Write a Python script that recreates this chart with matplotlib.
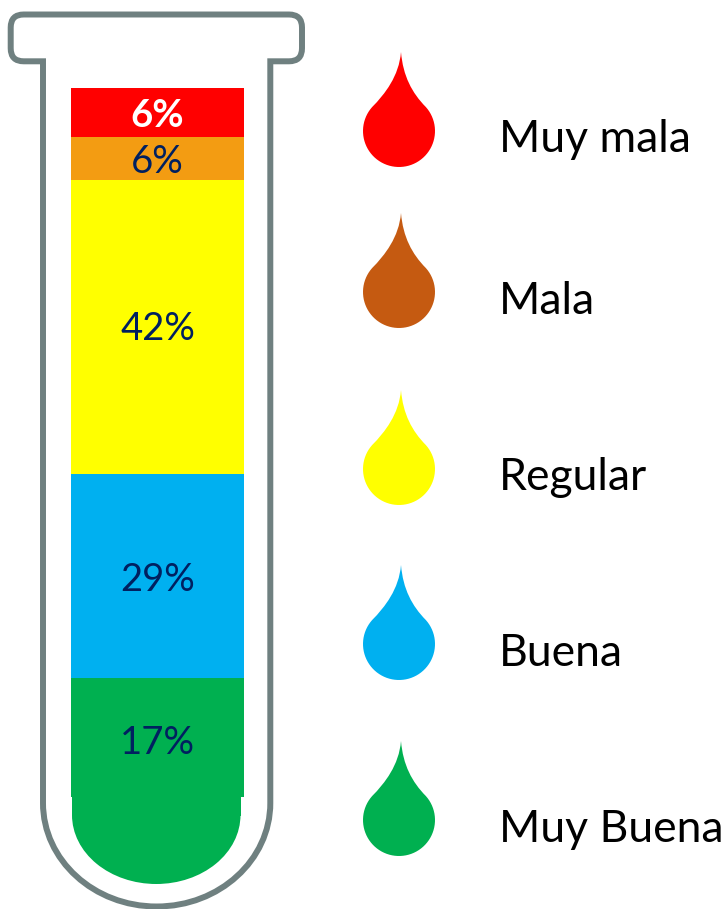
import matplotlib
matplotlib.use("Agg")
import matplotlib.pyplot as plt
from matplotlib.path import Path
from matplotlib.patches import PathPatch, Ellipse, Rectangle
import numpy as np

plt.rcParams['font.family'] = ['Lato', 'DejaVu Sans']

# Data, bottom to top
categories = ["Muy Buena", "Buena", "Regular", "Mala", "Muy mala"]
segment_heights = [17, 29, 42, 6.1, 7]
value_labels = ["17%", "29%", "42%", "6%", "6%"]
bar_colors = ["#00B050", "#00B0F0", "#FFFF00", "#F39C12", "#FF0000"]
label_colors = ["#002060", "#002060", "#002060", "#002060", "#FFFFFF"]
label_weights = ["normal", "normal", "normal", "normal", "bold"]
label_nudges = [-0.3, 0, 0.3, 0, 0]
drop_colors = ["#00B050", "#00B0F0", "#FFFF00", "#C55A11", "#FF0000"]
drop_tops = [741, 565, 390, 213, 52]
W, H = 728, 909
GREY = "#6F8080"

fig = plt.figure(figsize=(W / 100, H / 100), dpi=100, facecolor="white")

# Pixel-space canvas for the tube and the legend
canvas = fig.add_axes([0, 0, 1, 1])
canvas.set_xlim(0, W)
canvas.set_ylim(H, 0)
canvas.axis("off")

# Tube outline
L, R, T, B = 10.7, 302, 14.5, 61.3
NL, NR = 43, 270.3
r = 13
sy = 803
by = 906.5
k = 0.5523
rx = (NR - NL) / 2
ry = by - sy
cx = (NL + NR) / 2
verts = [(NL, B), (L + r, B), (L, B), (L, B - r), (L, T + r), (L, T), (L + r, T),
         (R - r, T), (R, T), (R, T + r), (R, B - r), (R, B), (R - r, B), (NR, B),
         (NR, sy),
         (NR, sy + k * ry), (cx + k * rx, by), (cx, by),
         (cx - k * rx, by), (NL, sy + k * ry), (NL, sy),
         (NL, B)]
codes = [Path.MOVETO, Path.LINETO, Path.CURVE3, Path.CURVE3, Path.LINETO, Path.CURVE3, Path.CURVE3,
         Path.LINETO, Path.CURVE3, Path.CURVE3, Path.LINETO, Path.CURVE3, Path.CURVE3, Path.LINETO,
         Path.LINETO,
         Path.CURVE4, Path.CURVE4, Path.CURVE4,
         Path.CURVE4, Path.CURVE4, Path.CURVE4,
         Path.CLOSEPOLY]
canvas.add_patch(PathPatch(Path(verts, codes), fc="white", ec=GREY, lw=4.3, joinstyle="miter"))

# Rounded green tube bottom
canvas.add_patch(Rectangle((72, 790), 168.5, 26, fc=bar_colors[0], ec="none"))
canvas.add_patch(Ellipse((156.25, 815), 168.5, 138, fc=bar_colors[0], ec="none"))

# Stacked column
bar_ax = fig.add_axes([71 / W, 1 - 797 / H, 173 / W, (797 - 88) / H])
bar_ax.set_xlim(0, 1)
bar_ax.set_ylim(0, sum(segment_heights))
bar_ax.axis("off")
bottom = 0
for h, c, t, tc, w, n in zip(segment_heights, bar_colors, value_labels,
                             label_colors, label_weights, label_nudges):
    bar_ax.bar(0.5, h, width=1, bottom=bottom, color=c, linewidth=0)
    bar_ax.text(0.5, bottom + h / 2 + n, t, color=tc, fontsize=27.5, fontweight=w,
                ha="center", va="center_baseline")
    bottom += h


def drop(x, top, color):
    """Teardrop glyph: a round belly, tapering concavely to a tip; top is the tip's pixel row."""
    radius = 36
    cy = top + 79
    a0 = np.arctan2(-24, 27)
    angles = np.linspace(a0, np.pi - a0, 60)
    arc = [(x + radius * np.cos(a), cy + radius * np.sin(a)) for a in angles]
    tip = (x + 2, top)
    v = [tip, (x + 4, top + 24), (x + 13, top + 41), arc[0]] + arc[1:] + \
        [(x - 14, top + 42), (x, top + 24), tip]
    c = [Path.MOVETO, Path.CURVE4, Path.CURVE4, Path.CURVE4] + [Path.LINETO] * (len(arc) - 1) + \
        [Path.CURVE4] * 3
    canvas.add_patch(PathPatch(Path(v, c), fc=color, ec="none"))


for name, c, top in zip(categories, drop_colors, drop_tops):
    drop(399, top, c)
    canvas.text(499, top + 84, name, fontsize=32, color="black", ha="left", va="center_baseline")

fig.savefig("out.png", dpi=100)
